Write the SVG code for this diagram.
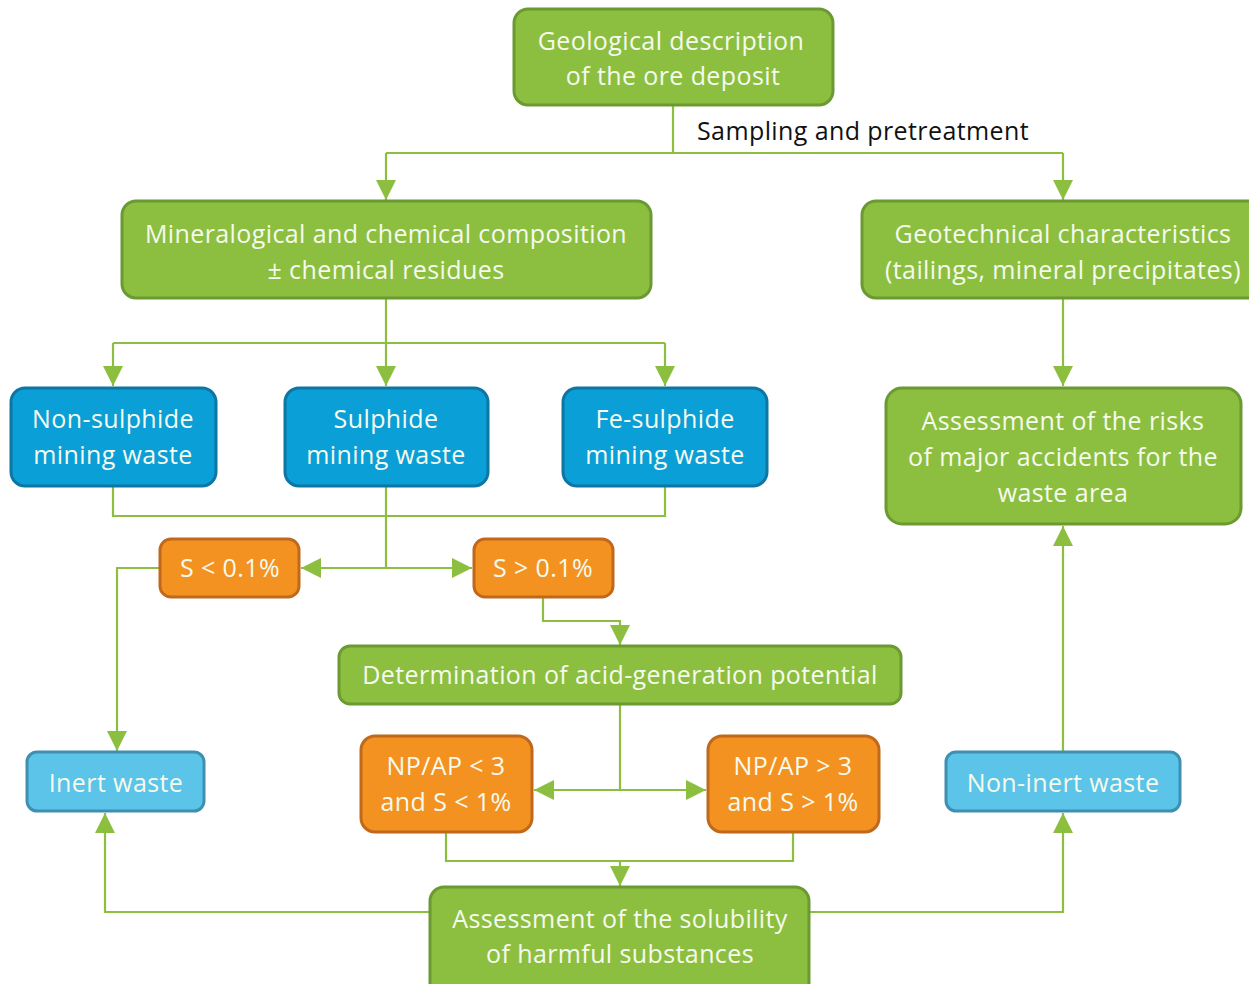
<svg xmlns="http://www.w3.org/2000/svg" width="1249" height="984" viewBox="0 0 1249 984">
<defs>
<style>
.g{fill:#8cbf40;stroke:#6b9a32;stroke-width:3}
.b{fill:#0a9fd7;stroke:#0d76a3;stroke-width:3}
.o{fill:#f39220;stroke:#c0681b;stroke-width:3}
.lb{fill:#5bc4e8;stroke:#3f8fb0;stroke-width:3}
text{font-family:"Open Sans","Liberation Sans",sans-serif;font-size:25px;letter-spacing:0.4px;fill:#f6faee;text-anchor:middle}
.lbl{fill:#111;text-anchor:start}
.c path{fill:none;stroke:#8cbf40;stroke-width:2.2}
</style>
<marker id="a" viewBox="0 0 20 20" refX="20" refY="10" markerWidth="20" markerHeight="20" markerUnits="userSpaceOnUse" orient="auto">
<path d="M0,0 L20,10 L0,20 z" fill="#8cbf40"/>
</marker>
</defs>
<rect width="1249" height="984" fill="#fff"/>
<g class="c" id="connectors">
<path d="M673,105 V153 M386,153 H1063"/>
<path d="M386,153 V200" marker-end="url(#a)"/>
<path d="M1063,153 V200" marker-end="url(#a)"/>
<path d="M386,298 V386" marker-end="url(#a)"/>
<path d="M113,343 H665"/>
<path d="M113,343 V386" marker-end="url(#a)"/>
<path d="M665,343 V386" marker-end="url(#a)"/>
<path d="M113,486 V516 H665 V486 M386,486 V568"/>
<path d="M386,568 H301" marker-end="url(#a)"/>
<path d="M386,568 H472" marker-end="url(#a)"/>
<path d="M160,568 H117 V751" marker-end="url(#a)"/>
<path d="M543,597 V621 H620 V645" marker-end="url(#a)"/>
<path d="M620,704 V790"/>
<path d="M620,790 H534" marker-end="url(#a)"/>
<path d="M620,790 H706" marker-end="url(#a)"/>
<path d="M446,832 V861 H793 V832"/>
<path d="M620,861 V886" marker-end="url(#a)"/>
<path d="M430,912 H105 V813" marker-end="url(#a)"/>
<path d="M809,912 H1063 V813" marker-end="url(#a)"/>
<path d="M1063,298 V386" marker-end="url(#a)"/>
<path d="M1063,752 V526" marker-end="url(#a)"/>
</g>
<text class="lbl" x="697" y="140">Sampling and pretreatment</text>
<g id="geological"><rect class="g" x="514" y="9" width="319" height="96" rx="14"/><text x="671" y="50">Geological description</text><text x="673" y="85">of the ore deposit</text></g>
<g id="mineralogical"><rect class="g" x="122" y="201" width="529" height="97" rx="14"/><text x="386" y="243">Mineralogical and chemical composition</text><text x="386" y="279">± chemical residues</text></g>
<g id="geotechnical"><rect class="g" x="862" y="201" width="400" height="97" rx="14"/><text x="1063" y="243">Geotechnical characteristics</text><text x="1063" y="279">(tailings, mineral precipitates)</text></g>
<g id="nonsulphide"><rect class="b" x="11" y="388" width="205" height="98" rx="14"/><text x="113" y="428">Non-sulphide</text><text x="113" y="464">mining waste</text></g>
<g id="sulphide"><rect class="b" x="285" y="388" width="203" height="98" rx="14"/><text x="386" y="428">Sulphide</text><text x="386" y="464">mining waste</text></g>
<g id="fesulphide"><rect class="b" x="563" y="388" width="204" height="98" rx="14"/><text x="665" y="428">Fe-sulphide</text><text x="665" y="464">mining waste</text></g>
<g id="risks"><rect class="g" x="886" y="388" width="355" height="136" rx="16"/><text x="1063" y="430">Assessment of the risks</text><text x="1063" y="466">of major accidents for the</text><text x="1063" y="502">waste area</text></g>
<g id="slow"><rect class="o" x="160" y="539" width="139" height="58" rx="11"/><text x="230" y="577">S &lt; 0.1%</text></g>
<g id="shigh"><rect class="o" x="474" y="539" width="139" height="58" rx="11"/><text x="543" y="577">S &gt; 0.1%</text></g>
<g id="determination"><rect class="g" x="339" y="646" width="562" height="58" rx="11"/><text x="620" y="684">Determination of acid-generation potential</text></g>
<g id="nplow"><rect class="o" x="361" y="736" width="171" height="96" rx="14"/><text x="446" y="775">NP/AP &lt; 3</text><text x="446" y="811">and S &lt; 1%</text></g>
<g id="nphigh"><rect class="o" x="708" y="736" width="171" height="96" rx="14"/><text x="793" y="775">NP/AP &gt; 3</text><text x="793" y="811">and S &gt; 1%</text></g>
<g id="inert"><rect class="lb" x="27" y="752" width="177" height="59" rx="10"/><text x="116" y="792">Inert waste</text></g>
<g id="noninert"><rect class="lb" x="946" y="752" width="234" height="59" rx="10"/><text x="1063" y="792">Non-inert waste</text></g>
<g id="solubility"><rect class="g" x="430" y="887" width="379" height="110" rx="14"/><text x="620" y="928">Assessment of the solubility</text><text x="620" y="963">of harmful substances</text></g>
</svg>
